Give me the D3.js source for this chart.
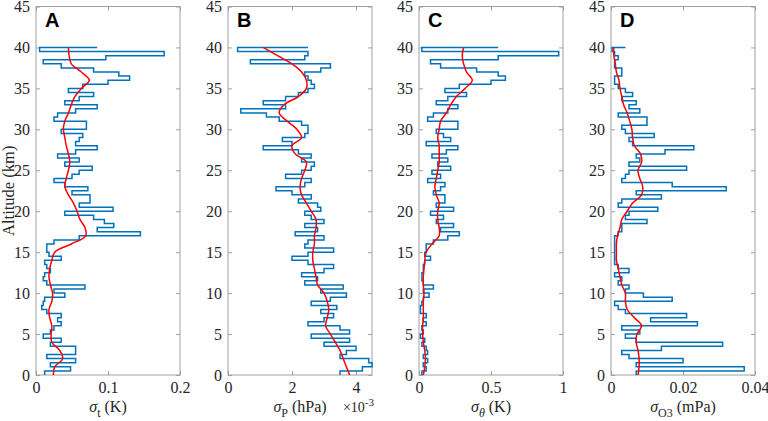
<!DOCTYPE html>
<html>
<head>
<meta charset="utf-8">
<script src="https://cdn.jsdelivr.net/npm/d3@7"></script>
<style>
  body { margin: 0; background: #fff; }
  svg { display: block; }
</style>
</head>
<body>
<div id="chart"></div>
<script>
// Altitude grid of the profiles (km), bins of 0.5 km; smooth curves every 1 km
const altFine = d3.range(0, 40.01, 0.5);
const altSmooth = d3.range(0, 41, 1);

// Panel A: sigma_t (K)
const profA = [0.012,0.048,0.02,0.055,0.015,0.055,0.055,0.02,0.035,0.01,0.02,0.025,0.035,0.03,0.035,0.015,
  0.008,0.01,0.012,0.04,0.025,0.068,0.015,0.01,0.012,0.02,0.015,0.012,0.035,0.018,0.015,0.015,
  0.025,0.06,0.145,0.085,0.108,0.095,0.08,0.04,0.107,0.06,0.075,0.075,0.05,0.072,0.04,0.025,
  0.05,0.06,0.078,0.04,0.06,0.03,0.055,0.085,0.055,0.06,0.065,0.035,0.07,0.07,0.025,0.03,
  0.055,0.085,0.04,0.06,0.08,0.045,0.065,0.10,0.13,0.115,0.08,0.035,0.01,0.097,0.178,0.005,0.085];
const smoothA = [0.024,0.026,0.037,0.033,0.022,0.021,0.022,0.019,0.018,0.022,0.023,0.020,0.018,0.019,0.022,0.026,
  0.049,0.069,0.068,0.061,0.057,0.052,0.045,0.040,0.042,0.045,0.047,0.045,0.042,0.040,0.038,
  0.040,0.045,0.049,0.054,0.063,0.074,0.063,0.049,0.046,0.045];

// Panel B: sigma_P (hPa), x 10^-3
const profB = [3.5,4.2,4.5,4.4,3.5,3.7,4.0,3.0,3.8,2.6,3.8,3.5,2.5,3.0,3.3,2.9,
  3.4,2.6,3.2,3.7,2.9,3.6,2.4,2.8,2.3,3.0,3.3,2.5,2.0,2.5,3.3,2.4,
  2.5,3.0,2.1,2.8,2.4,3.0,2.6,2.4,2.9,2.8,2.2,2.6,2.0,1.5,2.4,2.6,
  1.8,2.3,2.6,2.7,2.3,2.6,2.2,1.1,2.0,1.7,2.4,2.5,2.5,2.3,1.6,1.2,
  0.4,1.8,1.1,1.8,2.2,2.5,2.7,2.6,2.5,2.4,2.9,3.2,0.7,2.4,2.5,0.3,2.5];
const smoothB = [3.8,3.7,3.6,3.5,3.35,3.2,3.05,3.1,3.15,3.1,3.0,2.8,2.75,2.7,2.65,2.65,
  2.7,2.7,2.75,2.75,2.6,2.45,2.3,2.25,2.3,2.4,2.45,2.1,2.0,2.3,2.15,
  1.85,1.6,1.75,2.2,2.45,2.45,2.3,2.0,1.55,1.1];

// Panel C: sigma_theta (K)
const profC = [0.02,0.05,0.03,0.06,0.03,0.06,0.05,0.02,0.04,0.01,0.03,0.02,0.05,0.03,0.05,0.01,
  0.01,0.02,0.03,0.07,0.03,0.10,0.03,0.02,0.02,0.03,0.03,0.04,0.08,0.04,0.05,0.05,
  0.10,0.20,0.28,0.15,0.24,0.12,0.17,0.08,0.24,0.12,0.18,0.18,0.10,0.15,0.18,0.06,
  0.15,0.09,0.22,0.13,0.20,0.09,0.19,0.27,0.05,0.22,0.17,0.12,0.27,0.27,0.06,0.10,
  0.20,0.27,0.12,0.20,0.33,0.18,0.28,0.50,0.60,0.55,0.40,0.15,0.08,0.55,0.97,0.02,0.55];
const smoothC = [0.03,0.04,0.045,0.04,0.03,0.025,0.025,0.03,0.03,0.03,0.035,0.03,0.03,0.035,0.04,0.05,
  0.09,0.14,0.14,0.13,0.13,0.14,0.12,0.11,0.12,0.13,0.14,0.14,0.14,0.13,0.14,
  0.15,0.19,0.22,0.26,0.32,0.37,0.33,0.31,0.30,0.31];

// Panel D: sigma_O3 (mPa)
const profD = [0.007,0.037,0.007,0.020,0.005,0.003,0.014,0.031,0.007,0.004,0.008,0.003,0.024,0.011,0.021,0.004,
  0.002,0.001,0.017,0.009,0.004,0.005,0.002,0.003,0.001,0.005,0.002,0.001,0.001,0.001,0.001,0.001,
  0.001,0.001,0.002,0.003,0.003,0.010,0.004,0.005,0.013,0.002,0.003,0.014,0.007,0.032,0.017,0.003,
  0.004,0.005,0.021,0.005,0.008,0.007,0.015,0.023,0.006,0.005,0.012,0.004,0.003,0.010,0.010,0.002,
  0.008,0.005,0.007,0.003,0.006,0.004,0.002,0.001,0.001,0.003,0.003,0.001,0.001,0.002,0.001,0.0003,0.004];
const smoothD = [0.0075,0.0078,0.0078,0.0075,0.007,0.0072,0.0085,0.0065,0.0045,0.004,0.004,0.003,0.0025,0.002,0.0015,0.0015,
  0.0015,0.0018,0.0025,0.003,0.0045,0.006,0.0085,0.0088,0.008,0.0075,0.0085,0.0082,0.0065,0.006,0.0058,
  0.0052,0.0045,0.0035,0.003,0.0025,0.0022,0.0015,0.0012,0.0008,0.0007];

const altTicks = [0, 5, 10, 15, 20, 25, 30, 35, 40, 45];

const panels = [
  {letter: "A", prof: profA, smooth: smoothA, domain: [0, 0.2], ticks: [0, 0.1, 0.2], sub: "t", unit: " (K)"},
  {letter: "B", prof: profB, smooth: smoothB, domain: [0, 4.5], ticks: [0, 2, 4], sub: "P", unit: " (hPa)", exp: true},
  {letter: "C", prof: profC, smooth: smoothC, domain: [0, 1], ticks: [0, 0.5, 1], sub: "θ", unit: " (K)", italicSub: true},
  {letter: "D", prof: profD, smooth: smoothD, domain: [0, 0.04], ticks: [0, 0.02, 0.04], sub: "O3", unit: " (mPa)"}
];

const SERIF = "'Liberation Serif', 'Times New Roman', 'DejaVu Serif', serif";
const W = 768, H = 421;
const lefts = [36, 228, 419, 611];
const pw = 144;
const plotTop = 6.5, plotBottom = 375;

const svg = d3.select("#chart").append("svg")
  .attr("width", W).attr("height", H);

const y = d3.scaleLinear().domain([0, 45]).range([plotBottom, plotTop]);

// y label
svg.append("text")
  .attr("transform", `translate(14,${(plotTop + plotBottom) / 2}) rotate(-90)`)
  .attr("text-anchor", "middle")
  .style("font-family", SERIF)
  .style("font-size", "16.5px")
  .attr("fill", "#262626")
  .text("Altitude (km)");

panels.forEach((p, i) => {
  const x0 = lefts[i];
  const x = d3.scaleLinear().domain(p.domain).range([x0, x0 + pw]);
  const g = svg.append("g");

  // box
  g.append("rect")
    .attr("x", x0).attr("y", plotTop)
    .attr("width", pw).attr("height", plotBottom - plotTop)
    .attr("fill", "none").attr("stroke", "#a0a0a0").attr("stroke-width", 1);

  // axes with inward ticks
  const fmt = d3.format("~g");
  const yAx = g.append("g").attr("transform", `translate(${x0},0)`)
    .call(d3.axisLeft(y).tickValues(altTicks).tickSize(-4).tickPadding(6));
  const yAxR = g.append("g").attr("transform", `translate(${x0 + pw},0)`)
    .call(d3.axisRight(y).tickValues(altTicks).tickSize(-4).tickFormat(""));
  const xAx = g.append("g").attr("transform", `translate(0,${plotBottom})`)
    .call(d3.axisBottom(x).tickValues(p.ticks).tickSize(-4).tickPadding(7).tickFormat(fmt));
  const xAxT = g.append("g").attr("transform", `translate(0,${plotTop})`)
    .call(d3.axisTop(x).tickValues(p.ticks).tickSize(-4).tickFormat(""));
  [yAx, yAxR, xAx, xAxT].forEach(a => {
    a.select(".domain").remove();
    a.selectAll("line").attr("stroke", "#a0a0a0");
    a.selectAll("text")
      .style("font-family", SERIF)
      .style("font-size", "16px")
      .attr("fill", "#262626");
  });

  // blue profile (step per altitude bin)
  const stepLine = d3.line()
    .x(d => x(d[0]))
    .y(d => y(d[1]))
    .curve(d3.curveStepBefore);
  g.append("path")
    .datum(p.prof.map((v, k) => [v, altFine[k]]))
    .attr("fill", "none")
    .attr("stroke", "#0072BD")
    .attr("stroke-width", 1.5)
    .attr("d", stepLine);

  // red smoothed profile
  const smoothLine = d3.line()
    .x(d => x(d[0]))
    .y(d => y(d[1]))
    .curve(d3.curveCatmullRom);
  g.append("path")
    .datum(p.smooth.map((v, k) => [v, altSmooth[k]]))
    .attr("fill", "none")
    .attr("stroke", "#FF0000")
    .attr("stroke-width", 1.5)
    .attr("d", smoothLine);

  // panel letter
  g.append("text")
    .attr("x", x0 + 9).attr("y", 27)
    .style("font-family", "'Liberation Sans', Arial, sans-serif")
    .style("font-weight", "bold")
    .style("font-size", "20px")
    .attr("fill", "#000")
    .text(p.letter);

  // x label
  const lab = g.append("text")
    .attr("x", x0 + pw / 2).attr("y", 412)
    .attr("text-anchor", "middle")
    .style("font-family", SERIF)
    .style("font-size", "16px")
    .attr("fill", "#262626");
  lab.append("tspan").style("font-style", "italic").text("σ");
  lab.append("tspan").style("font-size", "12px").attr("dy", 5)
    .style("font-style", p.italicSub ? "italic" : "normal").text(p.sub);
  lab.append("tspan").attr("dy", -5).text(p.unit);

  if (p.exp) {
    const e = g.append("text")
      .attr("x", x0 + pw + 2).attr("y", 412)
      .attr("text-anchor", "end")
      .style("font-family", SERIF)
      .style("font-size", "14px")
      .attr("fill", "#262626");
    e.append("tspan").text("×10");
    e.append("tspan").style("font-size", "11px").attr("dy", -6).text("-3");
  }
});
</script>
</body>
</html>
